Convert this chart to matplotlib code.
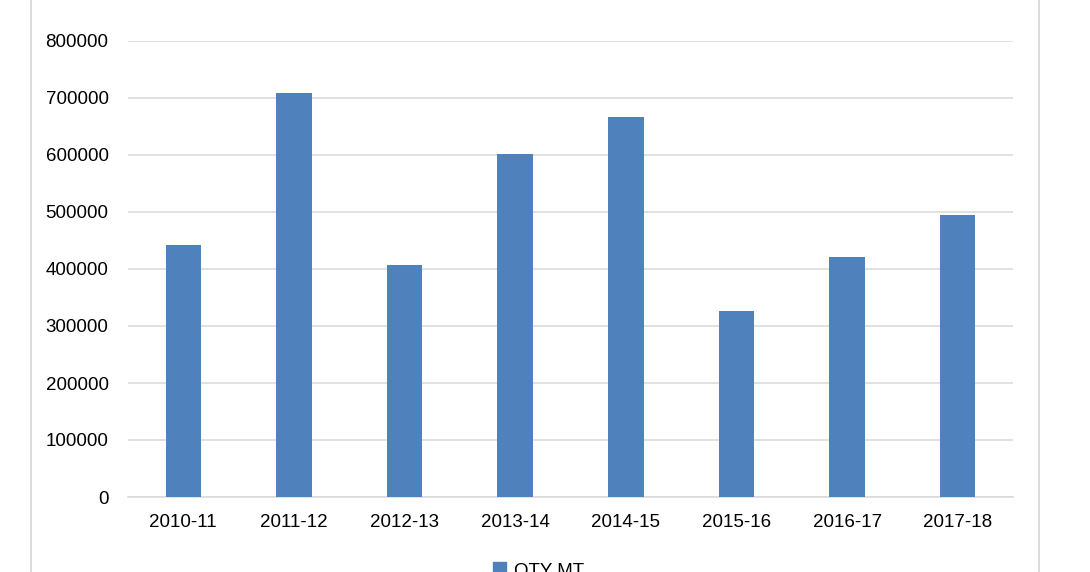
import matplotlib
matplotlib.use("Agg")
import matplotlib.pyplot as plt
from matplotlib.lines import Line2D
from matplotlib.patches import Patch

# valores
years = ["2010-11", "2011-12", "2012-13", "2013-14", "2014-15", "2015-16", "2016-17", "2017-18"]
qty_mt = [442000, 709000, 407000, 602000, 667000, 326000, 421000, 495000]
y_ticks = [0, 100000, 200000, 300000, 400000, 500000, 600000, 700000, 800000]

bar_color = "#4F81BD"
grid_color = "#D9D9D9"

plt.rcParams["font.family"] = ["Liberation Sans", "DejaVu Sans"]
plt.rcParams["font.size"] = 13.5

fig = plt.figure(figsize=(10.9, 5.72), dpi=100)
ax = fig.add_axes([128 / 1090, 1 - 497 / 572, (1013 - 128) / 1090, (497 - 41) / 572])

x = range(len(years))
ax.bar(x, qty_mt, width=0.32, color=bar_color, zorder=3)

ax.set_xlim(-0.5, len(years) - 0.5)
ax.set_ylim(0, 800000)
ax.set_yticks(y_ticks)
ax.set_yticklabels([str(v) for v in y_ticks])
ax.set_xticks(list(x))
ax.set_xticklabels(years)
ax.tick_params(axis="both", length=0, colors="#000000")
ax.tick_params(axis="y", pad=14)
ax.tick_params(axis="x", pad=12)

ax.grid(axis="y", color=grid_color, linewidth=1.1, zorder=0)
for s in ["top", "right", "left"]:
    ax.spines[s].set_visible(False)
ax.spines["bottom"].set_color(grid_color)
ax.spines["bottom"].set_linewidth(1.1)

# borde del area del grafico (cortado arriba y abajo)
for xp in [31, 1039]:
    fig.add_artist(Line2D([xp / 1090, xp / 1090], [0, 1], color=grid_color, linewidth=1.3,
                          transform=fig.transFigure))

fig.legend(handles=[Patch(color=bar_color)], labels=["QTY MT"], loc="center",
           bbox_to_anchor=(0.494, 1 - 571 / 572), frameon=False,
           handlelength=0.7, handleheight=0.7, handletextpad=0.4)

fig.savefig("out.png", dpi=100)
